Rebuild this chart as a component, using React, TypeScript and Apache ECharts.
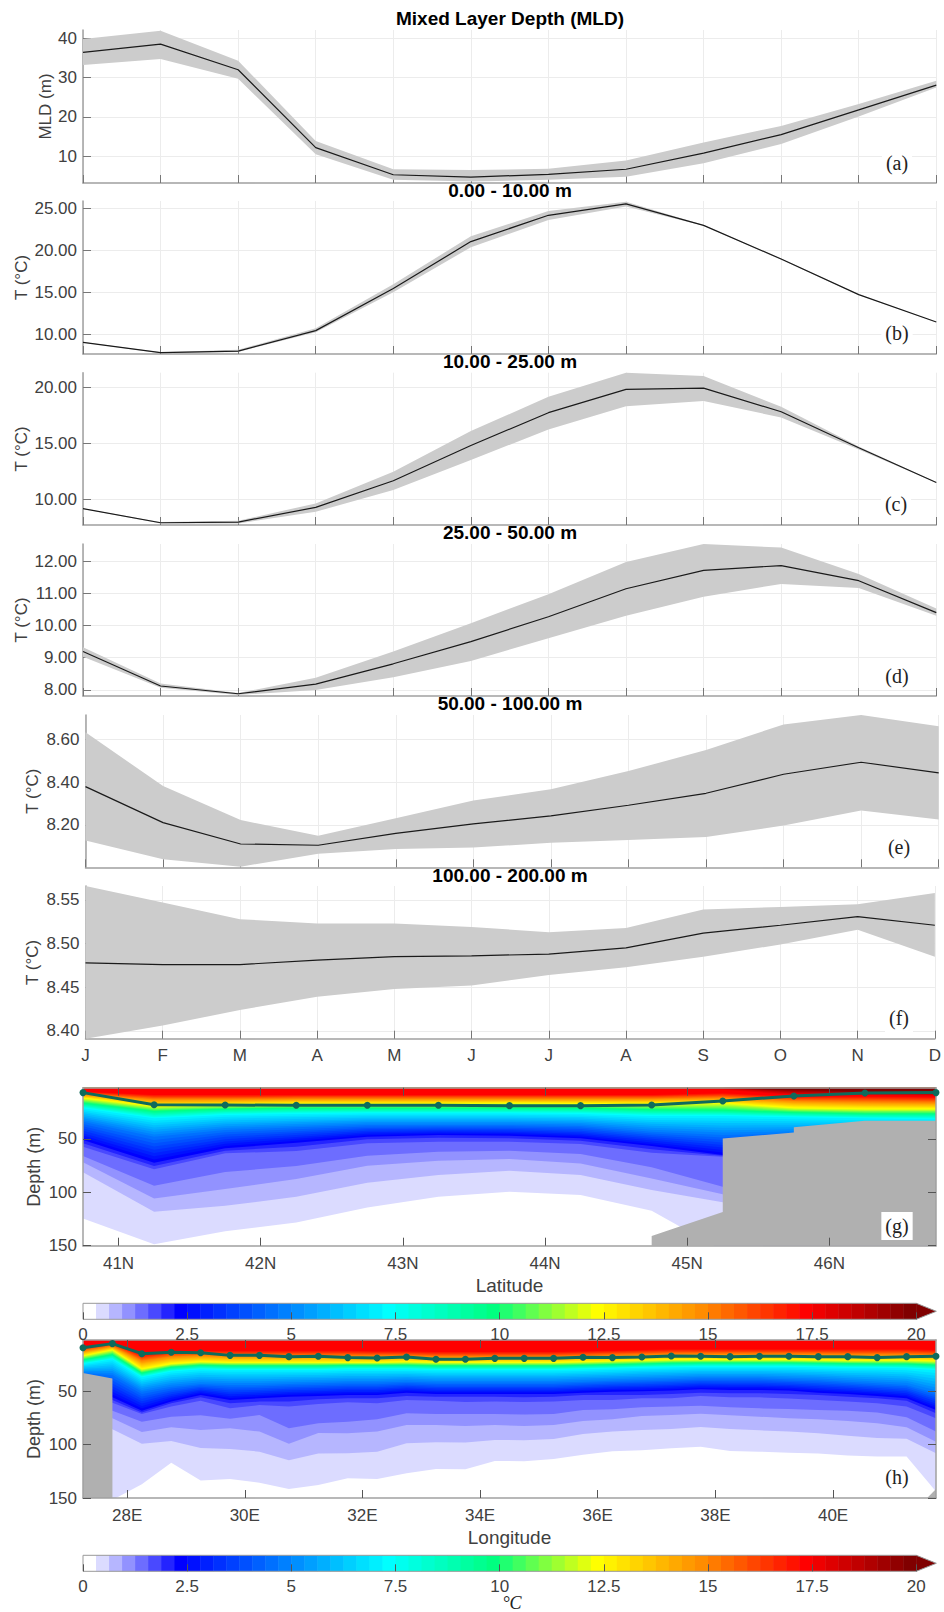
import React, { useEffect, useRef } from "react";
import * as echarts from "echarts";

const months = ["J", "F", "M", "A", "M", "J", "J", "A", "S", "O", "N", "D"];

// (a) MLD
const mldMean = [36.4, 38.5, 32.0, 12.2, 5.3, 4.7, 5.4, 6.7, 10.8, 15.5, 21.8, 28.1];
const mldUpper = [39.8, 41.9, 34.3, 13.9, 6.7, 6.5, 6.8, 8.9, 13.5, 17.7, 23.3, 29.2];
const mldLower = [33.2, 34.7, 29.7, 10.5, 4.0, 3.6, 4.0, 4.8, 8.2, 13.1, 20.1, 27.5];
// (b) 0-10 m
const t10Mean = [9.09, 7.86, 8.05, 10.48, 15.5, 21.07, 24.2, 25.55, 23.0, 19.0, 14.76, 11.5];
const t10Upper = [9.12, 7.9, 8.2, 10.75, 16.0, 21.7, 24.7, 25.8, 23.05, 19.05, 14.8, 11.52];
const t10Lower = [9.07, 7.8, 7.95, 10.3, 15.05, 20.4, 23.65, 25.25, 22.95, 18.9, 14.72, 11.48];
// (c) 10-25 m
const t25Mean = [9.17, 7.92, 7.98, 9.29, 11.66, 14.8, 17.72, 19.79, 19.91, 17.8, 14.6, 11.51];
const t25Upper = [9.2, 7.98, 8.1, 9.64, 12.46, 16.08, 19.14, 21.28, 20.98, 18.25, 14.7, 11.53];
const t25Lower = [9.14, 7.86, 7.86, 8.9, 10.83, 13.5, 16.23, 18.3, 18.75, 17.3, 14.45, 11.49];
// (d) 25-50 m
const t50Mean = [9.19, 8.12, 7.88, 8.18, 8.81, 9.5, 10.27, 11.14, 11.71, 11.86, 11.39, 10.4];
const t50Upper = [9.32, 8.2, 7.9, 8.38, 9.19, 10.07, 10.97, 11.97, 12.53, 12.42, 11.6, 10.53];
const t50Lower = [9.03, 8.07, 7.84, 8.0, 8.39, 8.9, 9.6, 10.3, 10.89, 11.29, 11.16, 10.3];
// (e) 50-100 m
const t100Mean = [8.379, 8.211, 8.111, 8.105, 8.161, 8.205, 8.242, 8.292, 8.348, 8.437, 8.493, 8.443];
const t100Upper = [8.633, 8.382, 8.223, 8.149, 8.231, 8.314, 8.367, 8.452, 8.55, 8.67, 8.714, 8.661];
const t100Lower = [8.127, 8.04, 8.005, 8.065, 8.088, 8.094, 8.117, 8.13, 8.144, 8.197, 8.267, 8.226];
// (f) 100-200 m
const t200Mean = [8.478, 8.476, 8.476, 8.481, 8.485, 8.486, 8.488, 8.495, 8.512, 8.521, 8.531, 8.521];
const t200Upper = [8.566, 8.547, 8.528, 8.523, 8.523, 8.519, 8.513, 8.518, 8.539, 8.542, 8.545, 8.558];
const t200Lower = [8.391, 8.406, 8.424, 8.439, 8.448, 8.452, 8.464, 8.473, 8.485, 8.499, 8.516, 8.485];

// (g) latitude section
const latStations = [40.75, 41.25, 41.75, 42.25, 42.75, 43.25, 43.75, 44.25, 44.75, 45.25, 45.75, 46.25, 46.75];
const latMld = [6.6, 17.9, 18.2, 18.5, 18.5, 18.5, 18.8, 18.8, 18.2, 14.4, 9.7, 6.9, 6.6];
const latBedX = [44.75, 44.75, 45.25, 45.25, 45.75, 45.75, 46.25, 46.75, 46.75];
const latBedDepth = [150, 141, 118.5, 49.7, 44, 39, 33, 33, 150];
const latIso1 = [124.5, 148.6, 136.4, 128.2, 114.2, 104.2, 99.5, 102.6, 117.3, 154.5, 155, 155, 155];
const latIso2 = [81.3, 118.2, 112.6, 104.2, 91, 83.8, 79.8, 83.8, 97.9, 109.2, 109, 107, 107];
const latIso3 = [71.9, 105.7, 97, 87.6, 75.1, 70.4, 68.8, 72.9, 87, 101.7, 98, 96, 96];
const latIso4 = [66, 93.8, 81, 75.4, 65.7, 61.9, 61, 64.1, 76.6, 94.8, 88, 85, 85];
const latIso5 = [57.2, 78.5, 63.5, 61.3, 54.1, 52.6, 52.6, 54.7, 62.9, 66.6, 63, 61, 61];
const latIso6 = [54.1, 75.4, 61, 57.2, 50.4, 48.8, 49.4, 51.6, 59.7, 65.7, 60, 58, 58];
const latIso7 = [51, 72.3, 58.8, 53.5, 47.9, 46.3, 46.9, 49.4, 56.6, 65, 57, 54, 54];
const latIso15 = [33.8, 47.9, 41.6, 39.1, 36.9, 36.9, 36.9, 37.9, 43.2, 46.3, 44.7, 44.7, 44.7];
const latIso23 = [21.3, 30.7, 27.5, 26.6, 26, 26, 26, 26.6, 28.5, 28.5, 29.7, 30.7, 31.6];
const latIso31 = [16.6, 24.4, 22.2, 21.3, 21.3, 21.3, 21.3, 21.3, 22.8, 23.5, 25.4, 26.6, 26.6];
const latIso39 = [11.9, 19.7, 18.2, 17.2, 17.2, 17.2, 16.6, 17.2, 17.2, 16.6, 21.3, 22.2, 22.2];
const latIso47 = [8.8, 13.5, 13.5, 12.8, 12.8, 12.8, 12.8, 12.8, 12.8, 11.9, 15, 16, 16.6];
const latIso55 = [5.7, 8.8, 8.8, 8.8, 8.8, 8.8, 8.8, 8.8, 8.8, 7.2, 10.3, 10.3, 11];
const latIso56 = [-0.6, -0.6, -0.6, -0.6, -0.6, -0.6, -0.6, -0.6, -0.6, 4, 8.8, 8.8, 9.7];
const latIso63 = [-5, -5, -5, -5, -5, -5, -5, -5, -5, -1, 4, 5.7, 6];
const latIsotherms: [number, number[]][] = [
  [1, latIso1], [2, latIso2], [3, latIso3], [4, latIso4], [5, latIso5], [6, latIso6], [7, latIso7],
  [15, latIso15], [23, latIso23], [31, latIso31], [39, latIso39], [47, latIso47], [55, latIso55], [56, latIso56], [63, latIso63],
];

// (h) longitude section
const lonStations = [27.25, 27.75, 28.25, 28.75, 29.25, 29.75, 30.25, 30.75, 31.25, 31.75, 32.25, 32.75, 33.25, 33.75, 34.25, 34.75, 35.25, 35.75, 36.25, 36.75, 37.25, 37.75, 38.25, 38.75, 39.25, 39.75, 40.25, 40.75, 41.25, 41.75];
const lonMld = [9.2, 5.4, 14.8, 13.5, 13.9, 16.4, 16.4, 17.6, 17.3, 18.5, 18.9, 17.9, 20.1, 20.1, 19.2, 19.2, 19.2, 18.2, 18.5, 17.9, 17, 17.3, 17.6, 17.3, 17.3, 17.6, 17.6, 18.5, 17.6, 17.3];
const lonBedWestX = [27.25, 27.25, 27.75, 27.75];
const lonBedWestDepth = [150, 33, 38, 150];
const lonBedEastX = [41.6, 41.75, 41.75];
const lonBedEastDepth = [150, 141.5, 150];
const lonIso1 = [152, 151.8, 137.1, 116.9, 133.7, 132.1, 135.6, 141.5, 137.8, 131.5, 132.1, 126.8, 122.8, 123.1, 115.3, 115.6, 113.4, 109.4, 106.2, 105.3, 103.4, 101.9, 105.9, 106.6, 107.5, 108.4, 110.3, 111.2, 111.2, 144];
const lonIso2 = [80, 85.6, 99.1, 96.6, 103.1, 104.1, 106.6, 114.7, 108.4, 108.1, 106.6, 98.8, 97.8, 98.1, 95.6, 95.9, 94.7, 90, 87.8, 86.3, 85.3, 83.5, 85.3, 86.6, 87.8, 89.4, 91.6, 93.8, 94.4, 108.1];
const lonIso3 = [75.3, 75.3, 88.1, 83.8, 86.3, 84.7, 87.8, 99.1, 89.1, 89.4, 87.8, 81.6, 81.6, 82.5, 81.6, 82.5, 81.6, 77.8, 76.3, 73.2, 72.2, 71, 72.5, 73.8, 75.3, 76.3, 77.8, 80, 83.8, 97.2];
const lonIso4 = [67.5, 68.2, 78.5, 73.8, 72.5, 75.7, 72.2, 84.7, 80, 78.5, 76.3, 70.7, 71.3, 71.3, 71.3, 71.9, 71.3, 67.5, 66.9, 65, 64.4, 63.5, 65, 66, 66.6, 67.5, 68.2, 70, 74.4, 87.8];
const lonIso5 = [59.7, 60.7, 71.3, 64.4, 58.8, 66, 62.9, 64.4, 61.9, 60.4, 61.3, 58.2, 58.8, 60, 59.7, 60, 59.7, 58.2, 58.2, 56.6, 56.6, 54.4, 55.7, 55.7, 56.9, 58.2, 59.7, 61.3, 64.4, 75.3];
const lonIso6 = [57.6, 58.2, 70, 61.3, 55.7, 61.3, 59.7, 59.7, 57.6, 56.6, 56.6, 54.4, 55.1, 55.1, 55.1, 55.7, 55.1, 53.5, 53.5, 53.5, 52.6, 51.3, 51.9, 51.9, 52.6, 53.5, 55.1, 56.6, 58.8, 70.7];
const lonIso7 = [55.1, 55.7, 68.2, 59.7, 53.5, 58.2, 56.6, 55.1, 54.4, 53.5, 53.5, 51.3, 52.6, 52.6, 52.6, 52.6, 52.6, 51.3, 50.4, 50.1, 49.4, 48.2, 48.8, 48.8, 49.4, 51.3, 52.6, 54.4, 56.6, 67.5];
const lonIso15 = [33.2, 34.8, 50.4, 45.7, 43.2, 44.1, 44.1, 43.2, 42.6, 41.9, 41.9, 41, 41.9, 41.9, 41.9, 41.9, 41.9, 41, 40.1, 39.5, 38.8, 37.9, 37.9, 37.9, 38.8, 39.5, 41, 42.6, 44.1, 51.9];
const lonIso23 = [24.5, 20.1, 37, 31.6, 29.5, 30.1, 30.1, 30.1, 30.1, 29.5, 29.5, 29.5, 30.1, 30.1, 30.1, 30.1, 30.1, 29.5, 28.8, 27.9, 27.6, 27, 27, 27, 27, 27.6, 27.9, 27.9, 28.5, 30.1];
const lonIso31 = [20.7, 16, 33.2, 27.6, 25.7, 26.3, 26.3, 26.3, 26.3, 25.7, 25.7, 25.7, 26.3, 26.3, 26.3, 26.3, 26.3, 25.7, 25.1, 24.5, 23.8, 23.5, 23.5, 23.5, 23.5, 23.8, 24.2, 24.5, 24.5, 25.7];
const lonIso39 = [17, 11.4, 29.5, 24.5, 22.6, 23.2, 23.2, 23.2, 23.2, 23.2, 23.2, 22.6, 23.2, 23.2, 23.2, 23.2, 23.2, 22.6, 22, 21.3, 20.7, 20.7, 20.7, 20.7, 20.7, 21, 21.3, 21.3, 21.3, 22];
const lonIso47 = [12.9, 8.2, 22.3, 18.2, 17, 17.6, 17.6, 17.6, 17.6, 17.6, 17.6, 17.6, 18.2, 18.2, 18.2, 18.2, 18.2, 17.6, 17, 16.4, 15.7, 15.7, 15.7, 15.7, 15.7, 16, 16.4, 16.4, 16.4, 17];
const lonIso55 = [8.2, 4.5, 16, 12.9, 12, 12, 12, 12, 12, 12, 12.6, 12.6, 13.2, 13.2, 13.2, 13.2, 13.2, 12.6, 12, 11.4, 10.7, 10.7, 10.7, 10.7, 10.7, 10.7, 10.7, 10.7, 10.7, 11.4];
const lonIso56 = lonStations.map(() => -6);
const lonIso63 = lonStations.map(() => -12);
const lonIsotherms: [number, number[]][] = [
  [1, lonIso1], [2, lonIso2], [3, lonIso3], [4, lonIso4], [5, lonIso5], [6, lonIso6], [7, lonIso7],
  [15, lonIso15], [23, lonIso23], [31, lonIso31], [39, lonIso39], [47, lonIso47], [55, lonIso55], [56, lonIso56], [63, lonIso63],
];

// Colour scale
const colorTicks = [0, 2.5, 5, 7.5, 10, 12.5, 15, 17.5, 20];
const levelCount = 64;
const levelStep = 20 / levelCount;
const colorStops: [number, number[]][] = [
  [0, [255, 255, 255]], [7, [0, 0, 255]], [23, [0, 255, 255]], [31, [0, 255, 128]], [39, [255, 255, 0]],
  [47, [255, 140, 0]], [55, [255, 0, 0]], [63, [128, 0, 0]],
];
const palette: string[] = [];
for (let k = 0; k < levelCount; k++) {
  let i = 0;
  while (i < colorStops.length - 2 && k > colorStops[i + 1][0]) i++;
  const [k0, c0] = colorStops[i];
  const [k1, c1] = colorStops[i + 1];
  const f = (k - k0) / (k1 - k0);
  palette.push(`rgb(${c0.map((c, j) => Math.round(c + (c1[j] - c) * f)).join(",")})`);
}
const levels = palette.map((_, k) => k);

const FONT = '"Liberation Sans", Arial, sans-serif';
const SERIF = '"Liberation Serif", serif';
const INK = "#404040";
const AXIS = "#a0a0a0";
const GRIDLINE = "#ececec";
const BAND = "#cccccc";
const TEAL = "#0e6b5c";
const ROCK = "#b0b0b0";

function depthsForLevel(anchors: [number, number[]][], k: number): number[] {
  let i = 0;
  while (i < anchors.length - 2 && k > anchors[i + 1][0]) i++;
  const [k0, d0] = anchors[i];
  const [k1, d1] = anchors[i + 1];
  const f = (k - k0) / (k1 - k0);
  return d0.map((d, j) => d + (d1[j] - d) * f);
}

const panels = [
  { title: "Mixed Layer Depth (MLD)", titleY: 18.5, top: 30, bottom: 183, left: 83, right: 936.3, min: 3.2, max: 42.1, ticks: [10, 20, 30, 40], digits: 0, name: "MLD (m)", gap: 29, mean: mldMean, upper: mldUpper, lower: mldLower, tag: "(a)", tagX: 897, tagY: 163 },
  { title: "0.00 - 10.00 m", titleY: 190.5, top: 201, bottom: 354, left: 83, right: 936.3, min: 7.7, max: 25.9, ticks: [10, 15, 20, 25], digits: 2, name: "T (°C)", gap: 53, mean: t10Mean, upper: t10Upper, lower: t10Lower, tag: "(b)", tagX: 897, tagY: 333 },
  { title: "10.00 - 25.00 m", titleY: 361.5, top: 372.7, bottom: 525, left: 83, right: 936.3, min: 7.72, max: 21.28, ticks: [10, 15, 20], digits: 2, name: "T (°C)", gap: 53, mean: t25Mean, upper: t25Upper, lower: t25Lower, tag: "(c)", tagX: 896, tagY: 504 },
  { title: "25.00 - 50.00 m", titleY: 532.5, top: 544, bottom: 696, left: 83, right: 936.3, min: 7.81, max: 12.53, ticks: [8, 9, 10, 11, 12], digits: 2, name: "T (°C)", gap: 53, mean: t50Mean, upper: t50Upper, lower: t50Lower, tag: "(d)", tagX: 897, tagY: 676 },
  { title: "50.00 - 100.00 m", titleY: 703.5, top: 715, bottom: 867.3, left: 85.5, right: 938.7, min: 8.002, max: 8.714, ticks: [8.2, 8.4, 8.6], digits: 2, name: "T (°C)", gap: 45, mean: t100Mean, upper: t100Upper, lower: t100Lower, tag: "(e)", tagX: 899, tagY: 847 },
  { title: "100.00 - 200.00 m", titleY: 875, top: 886, bottom: 1038.7, left: 85.5, right: 938.7, min: 8.391, max: 8.566, ticks: [8.4, 8.45, 8.5, 8.55], digits: 2, name: "T (°C)", gap: 45, mean: t200Mean, upper: t200Upper, lower: t200Lower, tag: "(f)", tagX: 899, tagY: 1018 },
];

function buildOption() {
  const grid: any[] = [];
  const xAxis: any[] = [];
  const yAxis: any[] = [];
  const series: any[] = [];
  const title: any[] = [];
  const graphic: any[] = [];

  const tagText = (text: string, x: number, y: number, box = true) => ({
    type: "text", x, y, z: 20,
    style: { text, font: `20px ${SERIF}`, fill: "#222", textAlign: "center", textVerticalAlign: "middle", backgroundColor: box ? "#fff" : undefined, padding: box ? [4, 4, 4, 4] : 0 },
  });

  // Monthly panels
  panels.forEach((p, i) => {
    grid.push({ left: p.left, top: p.top, width: p.right - p.left, height: p.bottom - p.top, containLabel: false });
    xAxis.push({
      type: "category", gridIndex: grid.length - 1, data: months, boundaryGap: false,
      axisLine: { show: true, lineStyle: { color: AXIS, width: 1.5 } },
      axisTick: { show: true, inside: true, length: 8, alignWithLabel: true, interval: 0, lineStyle: { color: "#777" } },
      splitLine: { show: true, interval: 0, lineStyle: { color: GRIDLINE, width: 1 } },
      axisLabel: { show: i === panels.length - 1, interval: 0, color: INK, fontFamily: FONT, fontSize: 17, margin: 8 },
    });
    yAxis.push({
      type: "value", gridIndex: grid.length - 1, min: p.min, max: p.max, name: p.name, nameLocation: "middle", nameGap: p.gap, nameMoveOverlap: false,
      nameTextStyle: { color: INK, fontFamily: FONT, fontSize: 17 },
      axisLine: { show: true, lineStyle: { color: AXIS, width: 1.5 } },
      axisTick: { show: true, inside: true, length: 8, customValues: p.ticks, lineStyle: { color: "#777" } },
      splitLine: { show: true, lineStyle: { color: GRIDLINE, width: 1 } },
      axisLabel: { color: INK, fontFamily: FONT, fontSize: 17, margin: 6, customValues: p.ticks, formatter: (v: number) => v.toFixed(p.digits), showMinLabel: true, showMaxLabel: true },
    });
    const ax = { xAxisIndex: xAxis.length - 1, yAxisIndex: yAxis.length - 1 };
    const stack = `band${i}`;
    series.push({ type: "line", ...ax, name: `${p.name} lower`, stack, data: p.lower, symbol: "none", lineStyle: { opacity: 0 }, silent: true });
    series.push({ type: "line", ...ax, name: `${p.name} range`, stack, data: p.upper.map((u, j) => +(u - p.lower[j]).toFixed(4)), symbol: "none", lineStyle: { opacity: 0 }, areaStyle: { color: BAND, opacity: 1 }, silent: true });
    series.push({ type: "line", ...ax, name: `${p.name} mean`, data: p.mean, symbol: "none", lineStyle: { color: "#1a1a1a", width: 1.2 }, z: 4 });
    title.push({ text: p.title, left: 510, top: p.titleY - 11, textAlign: "center", textStyle: { color: "#000", fontFamily: FONT, fontWeight: "bold", fontSize: 19, lineHeight: 22 }, padding: 0 });
    graphic.push(tagText(p.tag, p.tagX, p.tagY));
  });

  // Sections
  const addSection = (cfg: any) => {
    grid.push({ left: 83, top: cfg.top, width: 853, height: cfg.bottom - cfg.top, containLabel: false });
    const g = grid.length - 1;
    const xBase = { type: "value", gridIndex: g, min: cfg.xs[0], max: cfg.xs[cfg.xs.length - 1], z: 3, splitLine: { show: false } };
    const yBase = { type: "value", gridIndex: g, min: 2, max: 150, inverse: true, z: 3, splitLine: { show: false } };
    const line = { show: true, lineStyle: { color: AXIS, width: 1.5 } };
    const tick = (customValues: number[]) => ({ show: true, inside: true, length: 8, customValues, lineStyle: { color: "#555" } });
    xAxis.push({
      ...xBase, position: "bottom", axisLine: line, axisTick: tick(cfg.xTicks), name: cfg.xName, nameLocation: "middle", nameGap: 30, nameMoveOverlap: false,
      nameTextStyle: { color: INK, fontFamily: FONT, fontSize: 19 },
      axisLabel: { color: INK, fontFamily: FONT, fontSize: 17, margin: 9, customValues: cfg.xTicks, formatter: (v: number) => `${v}${cfg.suffix}` },
    });
    const xi = xAxis.length - 1;
    xAxis.push({ ...xBase, position: "top", axisLine: line, axisTick: tick(cfg.xTicks), axisLabel: { show: false } });
    yAxis.push({
      ...yBase, position: "left", axisLine: line, axisTick: tick([50, 100, 150]), name: "Depth (m)", nameLocation: "middle", nameGap: 40, nameMoveOverlap: false,
      nameTextStyle: { color: INK, fontFamily: FONT, fontSize: 18 },
      axisLabel: { color: INK, fontFamily: FONT, fontSize: 17, margin: 6, customValues: [50, 100, 150] },
    });
    const yi = yAxis.length - 1;
    yAxis.push({ ...yBase, position: "right", axisLine: line, axisTick: tick([50, 100, 150]), axisLabel: { show: false } });
    const ax = { xAxisIndex: xi, yAxisIndex: yi };
    const drawn = levels.filter((k) => k > 0);
    const depths: Record<number, number[]> = {};
    drawn.forEach((k) => (depths[k] = depthsForLevel(cfg.isotherms, k)));
    series.push({
      type: "custom", ...ax, name: cfg.name, clip: true, silent: true, z: 2,
      encode: { x: 0, y: 1 },
      data: drawn.map((k) => [cfg.xs[0], 2, k]),
      renderItem: (_: any, api: any) => {
        const k = api.value(2);
        const bottom = depths[k].map((d, j) => api.coord([cfg.xs[j], Math.max(d, 2)]));
        const points = [api.coord([cfg.xs[0], 2]), api.coord([cfg.xs[cfg.xs.length - 1], 2]), ...bottom.reverse()];
        return { type: "polygon", shape: { points }, style: { fill: palette[k] } };
      },
    });
    cfg.beds.forEach(([bx, bd]: [number[], number[]], n: number) => {
      series.push({
        type: "custom", ...ax, name: `${cfg.name} bottom ${n}`, clip: true, silent: true, z: 2,
        encode: { x: 0, y: 1 },
        data: [[bx[0], bd[0]]],
        renderItem: (_: any, api: any) => ({
          type: "polygon",
          shape: { points: bx.map((x, j) => api.coord([x, bd[j]])) },
          style: { fill: ROCK },
        }),
      });
    });
    series.push({
      type: "line", ...ax, name: `${cfg.name} MLD`, data: cfg.xs.map((x: number, j: number) => [x, cfg.mld[j]]), clip: false, z: 5,
      symbol: "circle", symbolSize: 7, showAllSymbol: true, lineStyle: { color: TEAL, width: 3 }, itemStyle: { color: TEAL },
    });
    graphic.push(tagText(cfg.tag, 897, cfg.tagY, cfg.tagBox));
  };

  addSection({
    name: "latitude section", top: 1087.7, bottom: 1245.7, xs: latStations, xTicks: [41, 42, 43, 44, 45, 46], suffix: "N", xName: "Latitude",
    isotherms: latIsotherms, mld: latMld, beds: [[latBedX, latBedDepth]], tag: "(g)", tagY: 1226, tagBox: true,
  });
  addSection({
    name: "longitude section", top: 1340, bottom: 1498, xs: lonStations, xTicks: [28, 30, 32, 34, 36, 38, 40], suffix: "E", xName: "Longitude",
    isotherms: lonIsotherms, mld: lonMld, beds: [[lonBedWestX, lonBedWestDepth], [lonBedEastX, lonBedEastDepth]], tag: "(h)", tagY: 1477, tagBox: false,
  });

  // Colour bars
  const addColorBar = (top: number) => {
    grid.push({ left: 83, top, width: 853.3, height: 16, containLabel: false });
    const g = grid.length - 1;
    xAxis.push({
      type: "value", gridIndex: g, min: 0, max: 20.48, z: 3, axisLine: { show: false }, splitLine: { show: false },
      axisTick: { show: true, inside: true, length: 7, customValues: colorTicks, lineStyle: { color: "#555" } },
      axisLabel: { color: INK, fontFamily: FONT, fontSize: 17, margin: 7, customValues: colorTicks },
    });
    yAxis.push({ type: "value", gridIndex: g, min: 0, max: 1, show: false });
    const ax = { xAxisIndex: xAxis.length - 1, yAxisIndex: yAxis.length - 1 };
    series.push({
      type: "custom", ...ax, name: "colour bar", silent: true, z: 2, encode: { x: 0, y: 1 },
      data: levels.map((k) => [k * levelStep, 0, k]),
      renderItem: (_: any, api: any) => {
        const k = api.value(2);
        const a = api.coord([k * levelStep, 1]);
        const b = api.coord([(k + 1) * levelStep, 0]);
        return { type: "rect", shape: { x: a[0], y: a[1], width: b[0] - a[0] + 0.5, height: b[1] - a[1] }, style: { fill: palette[k] } };
      },
    });
    series.push({
      type: "custom", ...ax, name: "colour bar arrow", silent: true, z: 2, clip: false, encode: { x: 0, y: 1 },
      data: [[0, 0]],
      renderItem: (_: any, api: any) => ({
        type: "group",
        children: [
          { type: "polygon", shape: { points: [api.coord([20, 0]), api.coord([20, 1]), api.coord([20.48, 0.5])] }, style: { fill: palette[levelCount - 1] } },
          { type: "polygon", shape: { points: [api.coord([0, 0]), api.coord([0, 1]), api.coord([20, 1]), api.coord([20.48, 0.5]), api.coord([20, 0])] }, style: { fill: "none", stroke: "#999", lineWidth: 1 } },
        ],
      }),
    });
  };
  addColorBar(1303.3);
  addColorBar(1555.3);

  graphic.push({
    type: "text", x: 512, y: 1603, z: 20,
    style: { text: "°C", font: `italic 18px ${SERIF}`, fill: "#222", textAlign: "center", textVerticalAlign: "middle" },
  });

  return { animation: false, backgroundColor: "#fff", grid, xAxis, yAxis, series, title, graphic };
}

export default function App() {
  const ref = useRef<HTMLDivElement>(null);
  useEffect(() => {
    document.body.style.margin = "0";
    const chart = echarts.init(ref.current!, undefined, { renderer: "svg" });
    chart.setOption(buildOption() as any);
    return () => chart.dispose();
  }, []);
  return <div ref={ref} style={{ position: "absolute", left: 0, top: 0, width: 944, height: 1612 }} />;
}
